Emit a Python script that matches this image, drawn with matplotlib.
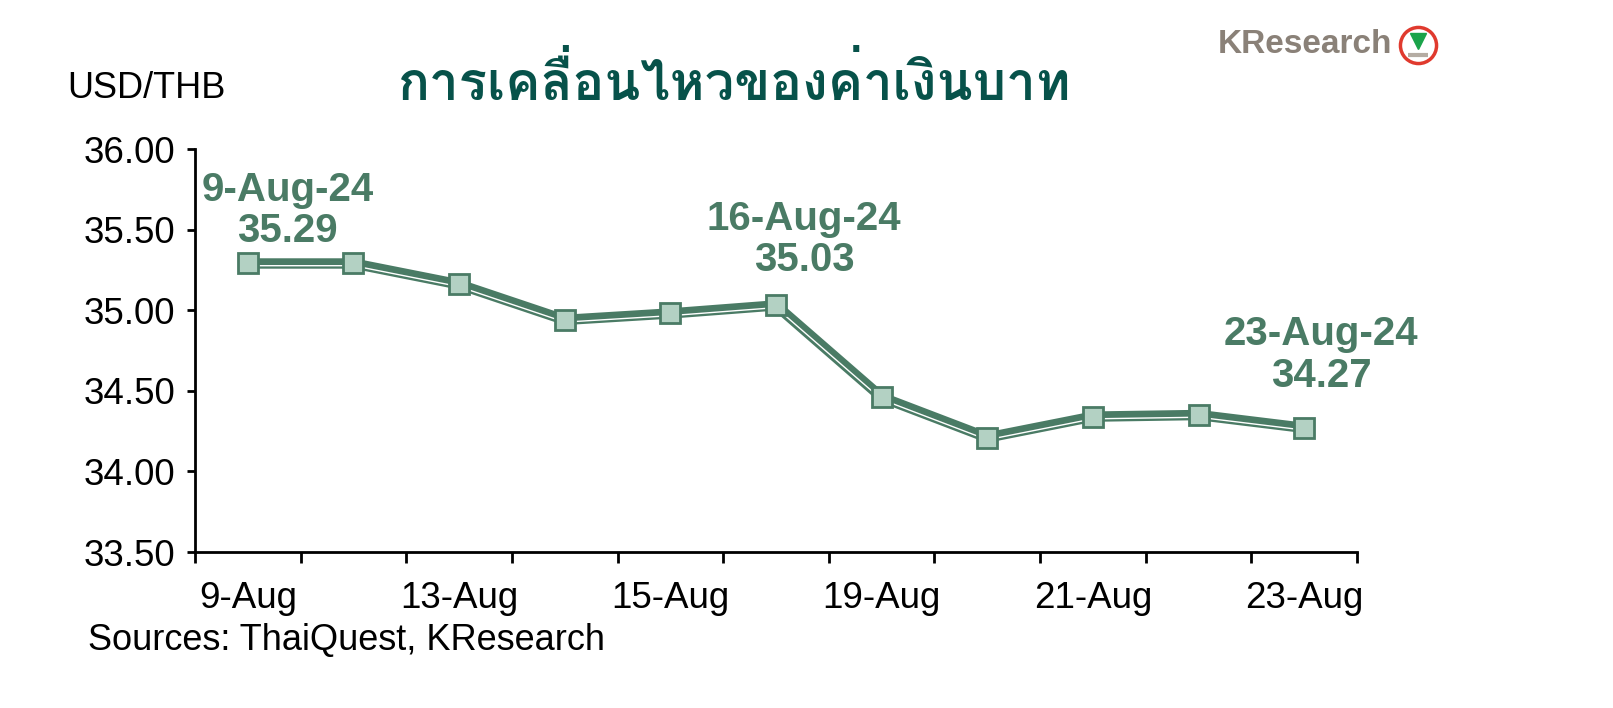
import matplotlib
matplotlib.use('Agg')
import matplotlib.pyplot as plt
import matplotlib.transforms as mtransforms
from matplotlib import font_manager
from matplotlib.lines import Line2D
import numpy as np

dates = ['9-Aug', '12-Aug', '13-Aug', '14-Aug', '15-Aug', '16-Aug',
         '19-Aug', '20-Aug', '21-Aug', '22-Aug', '23-Aug']
usd_thb = [35.29, 35.29, 35.16, 34.94, 34.98, 35.03,
           34.46, 34.21, 34.34, 34.35, 34.27]
notes = [(0, '9-Aug-24\n35.29'), (5, '16-Aug-24\n35.03'), (10, '23-Aug-24\n34.27')]
title = 'การเคลื่อนไหวของค่าเงินบาท'

# ฟอนต์ไทยตัวหนา (Loma-Bold) ถ้ามี
thai_fp = None
for f in font_manager.findSystemFonts():
    if f.endswith('Loma-Bold.otf'):
        thai_fp = font_manager.FontProperties(fname=f)
        break
if thai_fp is None:
    thai_fp = font_manager.FontProperties(family='DejaVu Sans', weight='bold')

plt.rcParams['font.family'] = ['Liberation Sans', 'DejaVu Sans']

dark = '#4a7b65'
fill = '#b3d1c3'

fig = plt.figure(figsize=(16.13, 7.08), dpi=100)
ax = fig.add_axes([0.1209, 0.2203, 0.7204, 0.5692])

x = np.arange(len(dates))
ax.plot(x, usd_thb, color=dark, lw=7.5, zorder=2, solid_joinstyle='miter')
white_off = mtransforms.offset_copy(ax.transData, fig=fig, x=0, y=-1.6, units='points')
ax.plot(x, usd_thb, color='white', lw=1.0, transform=white_off, zorder=3)
ax.plot(x, usd_thb, ls='none', marker='s', ms=15, mfc=fill, mec=dark, mew=2, zorder=4)

# (dx, dy) เป็นพิกเซล
offsets = {0: (40, 21), 5: (28, 34), 10: (17, 41)}
for i, txt in notes:
    dx, dy = offsets[i]
    ax.annotate(txt, (x[i], usd_thb[i]), xytext=(dx * 0.72, dy * 0.72), textcoords='offset points',
                ha='center', va='baseline', fontsize=29, fontweight='bold', color=dark,
                linespacing=1.12, multialignment='center')

ax.set_xlim(-0.5, 10.5)
ax.set_ylim(33.5, 36.0)
yt = np.arange(33.5, 36.01, 0.5)
ax.set_yticks(yt)
ax.set_yticklabels([f'{v:.2f}' for v in yt])
ax.set_xticks(np.arange(-0.5, 10.6, 1))
ax.set_xticklabels([])
ax.set_xticks(x[::2], minor=True)
ax.set_xticklabels(dates[::2], minor=True)
ax.tick_params(axis='y', which='major', length=6, width=2, labelsize=26.5, pad=8)
ax.tick_params(axis='x', which='major', length=8, width=2)
ax.tick_params(axis='x', which='minor', length=0, labelsize=26.5, pad=21)

for s in ['top', 'right']:
    ax.spines[s].set_visible(False)
for s in ['left', 'bottom']:
    ax.spines[s].set_linewidth(2)

fig.text(0.0415, 0.8616, 'USD/THB', fontsize=26, va='baseline')
fig.text(0.0546, 0.082, 'Sources: ThaiQuest, KResearch', fontsize=26, va='baseline')
fig.text(0.4557, 0.8588, title, fontproperties=thai_fp, fontsize=38, color='#07524a',
         ha='center', va='baseline')

# โลโก้ KResearch
fig.text(0.863, 0.937, 'KResearch', fontsize=24, fontweight='bold', color='#8a8178',
         ha='right', va='center')
fig.add_artist(Line2D([0.879], [0.937], transform=fig.transFigure, marker='o', ms=26,
                      mfc='white', mec='#e03a2e', mew=2.5))
fig.add_artist(Line2D([0.879], [0.942], transform=fig.transFigure, marker='v', ms=12,
                      mfc='#1aa34a', mec='#1aa34a'))
fig.add_artist(Line2D([0.879], [0.922], transform=fig.transFigure, marker='_', ms=14,
                      mec='#b5aca3', mew=3))

fig.savefig('out.png', dpi=100)
